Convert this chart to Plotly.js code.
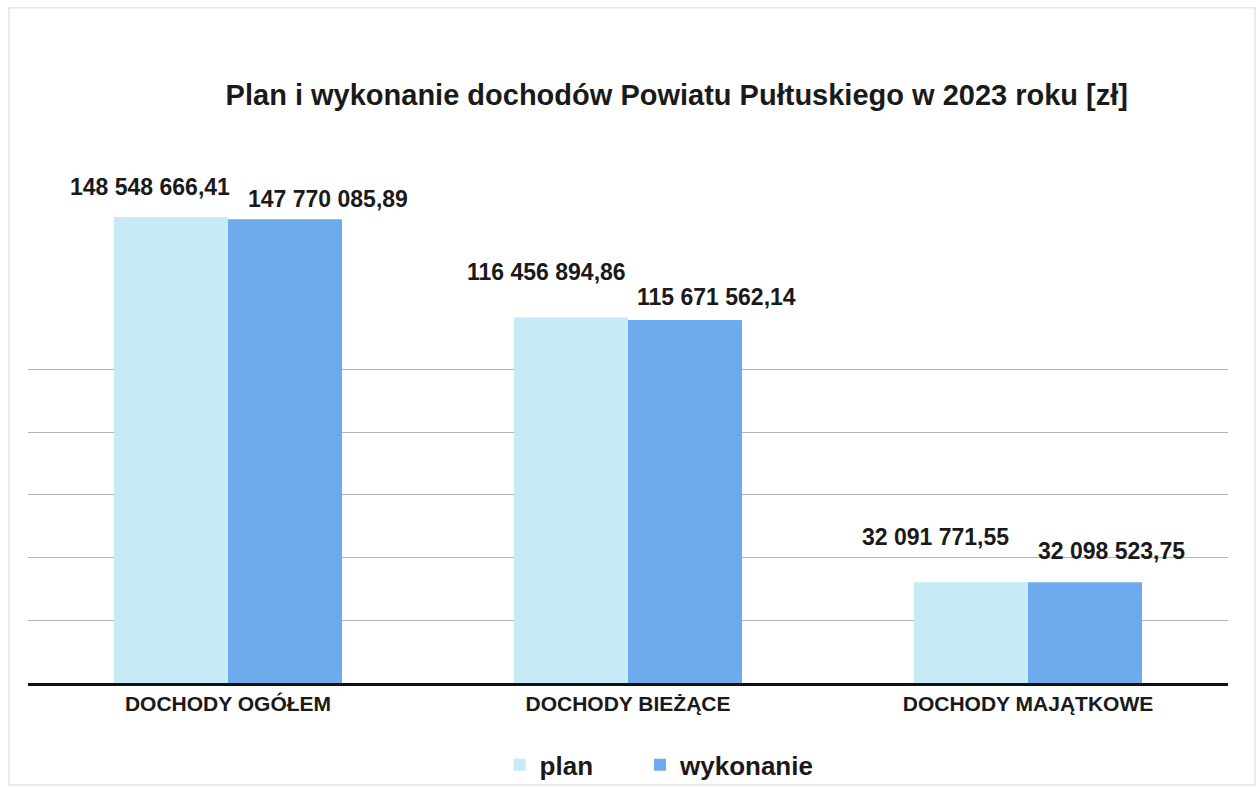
<!DOCTYPE html>
<html><head><meta charset="utf-8">
<script src="https://cdn.plot.ly/plotly-3.0.1.min.js"></script>
<style>html,body{margin:0;padding:0;background:#fff;}#chart{width:1258px;height:787px;}</style>
</head><body><div id="chart"></div>
<script>
const categories = ["DOCHODY OGÓŁEM", "DOCHODY BIEŻĄCE", "DOCHODY MAJĄTKOWE"];
const planValues = [148548666.41, 116456894.86, 32091771.55];
const wykonanieValues = [147770085.89, 115671562.14, 32098523.75];
const planLabels = ["148 548 666,41", "116 456 894,86", "32 091 771,55"];
const wykonanieLabels = ["147 770 085,89", "115 671 562,14", "32 098 523,75"];
const seriesNames = ["plan", "wykonanie"];
const gridTicks = [0, 20000000, 40000000, 60000000, 80000000, 100000000];

const FONT = "Liberation Sans, Arial, sans-serif";
const traces = [
  {type: "bar", name: seriesNames[0], x: categories, y: planValues, legend: "legend",
   marker: {color: "#c6ebf6"}, hoverinfo: "none"},
  {type: "bar", name: seriesNames[1], x: categories, y: wykonanieValues, legend: "legend2",
   marker: {color: "#6eabec"}, hoverinfo: "none"}
];

const annotations = [];
const planShift = [[-78, 30], [-82, 46], [-93, 45]];
const wykShift = [[100, 20], [88, 23], [83, 31]];
categories.forEach((c, i) => {
  annotations.push({x: c, y: planValues[i], xref: "x", yref: "y", text: planLabels[i],
    showarrow: false, xshift: planShift[i][0], yshift: planShift[i][1],
    font: {family: FONT, size: 23, color: "#1a1a1a", weight: "bold"}});
  annotations.push({x: c, y: wykonanieValues[i], xref: "x", yref: "y", text: wykonanieLabels[i],
    showarrow: false, xshift: wykShift[i][0], yshift: wykShift[i][1],
    font: {family: FONT, size: 23, color: "#1a1a1a", weight: "bold"}});
});

const legendFont = {family: FONT, size: 26, color: "#1a1a1a", weight: "bold"};
const layout = {
  width: 1258, height: 787,
  paper_bgcolor: "#fff", plot_bgcolor: "#fff",
  margin: {l: 28, r: 30, t: 181, b: 104, autoexpand: false},
  title: {text: "Plan i wykonanie dochodów Powiatu Pułtuskiego w 2023 roku [zł]",
    x: 0.538, xanchor: "center", y: 0.879, yanchor: "middle",
    font: {family: FONT, size: 29, color: "#1a1a1a", weight: "bold"}},
  barmode: "group", bargap: 0.43, bargroupgap: 0,
  xaxis: {showline: true, linecolor: "#111", linewidth: 3, ticks: "",
    tickfont: {family: FONT, size: 21, color: "#1a1a1a", weight: "bold"},
    fixedrange: true},
  yaxis: {range: [0, 160000000], tickvals: gridTicks, showticklabels: false,
    showgrid: true, gridcolor: "#b4b4b4", gridwidth: 1, zeroline: false, fixedrange: true},
  legend: {orientation: "h", x: 0.393, xanchor: "left", y: -0.163, yanchor: "middle",
    font: legendFont, itemwidth: 30, bgcolor: "rgba(0,0,0,0)"},
  legend2: {orientation: "h", x: 0.510, xanchor: "left", y: -0.163, yanchor: "middle",
    font: legendFont, itemwidth: 30, bgcolor: "rgba(0,0,0,0)"},
  shapes: [{type: "rect", xref: "paper", yref: "paper",
    x0: -0.0158, x1: 1.0225, y0: -0.203, y1: 1.345,
    line: {color: "#e4e4e4", width: 1.5}, layer: "below"}],
  annotations: annotations,
  showlegend: true
};

Plotly.newPlot("chart", traces, layout, {displayModeBar: false, staticPlot: true});
</script></body></html>
